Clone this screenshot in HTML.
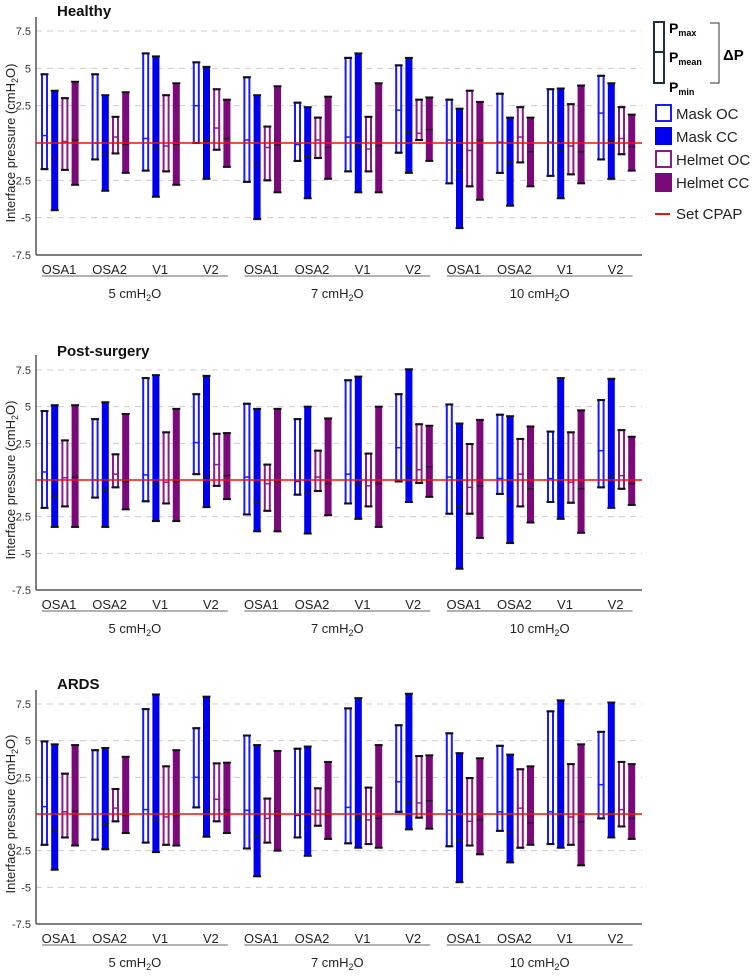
<!DOCTYPE html>
<html><head><meta charset="utf-8"><style>
html,body{margin:0;padding:0;background:#fff;}
svg{display:block;font-family:"Liberation Sans",sans-serif;}
</style></head><body>
<svg id="chart" width="755" height="978" viewBox="0 0 755 978" xmlns="http://www.w3.org/2000/svg">
<g id="legend">
 <rect x="654" y="22" width="10" height="61" fill="#fff" stroke="#1e3040" stroke-width="2"/>
 <line x1="654" y1="52" x2="664" y2="52" stroke="#1e3040" stroke-width="2"/>
 <text x="669" y="33" font-size="14" font-weight="bold">P<tspan font-size="9" dy="3">max</tspan></text>
 <text x="669" y="62" font-size="14" font-weight="bold">P<tspan font-size="9" dy="3">mean</tspan></text>
 <text x="669" y="92" font-size="14" font-weight="bold">P<tspan font-size="9" dy="3">min</tspan></text>
 <polyline points="710,23 719,23 719,83 710,83" fill="none" stroke="#333" stroke-width="1"/>
 <text x="723" y="60" font-size="15" font-weight="bold">ΔP</text>
 <rect x="656" y="105" width="15" height="16" fill="#fff" stroke="#1a1aff" stroke-width="2"/>
 <text x="676" y="119" font-size="15" fill="#222">Mask OC</text>
 <rect x="655" y="127" width="17" height="18" fill="#0000ee"/>
 <text x="676" y="142" font-size="15" fill="#222">Mask CC</text>
 <rect x="656" y="151" width="15" height="16" fill="#fff" stroke="#8b1a8b" stroke-width="2"/>
 <text x="676" y="165" font-size="15" fill="#222">Helmet OC</text>
 <rect x="655" y="173" width="17" height="19" fill="#7a0a7a"/>
 <text x="676" y="188" font-size="15" fill="#222">Helmet CC</text>
 <line x1="655" y1="214" x2="670" y2="214" stroke="#ee1111" stroke-width="2"/>
 <text x="676" y="219" font-size="15" fill="#222">Set CPAP</text>
</g>
</svg>
<script>
const categories = ["OSA1","OSA2","V1","V2","OSA1","OSA2","V1","V2","OSA1","OSA2","V1","V2"];
const groups = ["5 cmH2O","7 cmH2O","10 cmH2O"];
const yTicks = [7.5,5,2.5,-2.5,-5,-7.5];
const panelTitles = ["Healthy","Post-surgery","ARDS"];

const healthyMaskOCMax = [4.6,4.6,6.0,5.4,4.4,2.7,5.7,5.2,2.9,3.3,3.6,4.5];
const healthyMaskOCMean = [0.5,0,0.3,2.5,0.2,-0.1,0.4,2.2,0.2,0.05,0.05,2.0];
const healthyMaskOCMin = [-1.75,-1.1,-1.85,0,-2.6,-1.2,-1.9,-0.65,-2.7,-2.0,-2.2,-1.1];
const healthyMaskCCMax = [3.5,3.2,5.8,5.1,3.2,2.4,6.0,5.7,2.3,1.7,3.65,4.0];
const healthyMaskCCMean = [-1.1,-0.7,-0.4,0.2,-1.5,-0.9,-0.25,0.7,-1.8,-1.3,-0.5,0.2];
const healthyMaskCCMin = [-4.5,-3.2,-3.6,-2.4,-5.1,-3.7,-3.3,-2.0,-5.7,-4.2,-3.7,-2.4];
const healthyHelmetOCMax = [3.0,1.75,3.2,3.6,1.1,1.7,1.75,2.9,3.5,2.4,2.6,2.4];
const healthyHelmetOCMean = [0.1,0.4,-0.2,1.0,-0.3,0.2,-0.4,0.65,-0.5,0.4,-0.2,0.3];
const healthyHelmetOCMin = [-1.8,-0.7,-1.9,-0.45,-2.5,-1.0,-1.9,0.2,-2.9,-1.3,-2.1,-0.75];
const healthyHelmetCCMax = [4.1,3.4,4.0,2.9,3.8,3.1,4.0,3.05,2.75,1.7,3.85,1.9];
const healthyHelmetCCMean = [0.2,-0.1,-0.1,0.3,-0.15,-0.3,-0.2,0.9,0.2,-0.6,-0.6,-0.25];
const healthyHelmetCCMin = [-2.8,-2.0,-2.8,-1.6,-3.3,-2.4,-3.3,-1.2,-3.8,-2.9,-2.7,-1.85];

const postMaskOCMax = [4.7,4.15,6.95,5.85,5.2,4.15,6.8,5.85,5.15,4.45,3.3,5.45];
const postMaskOCMean = [0.55,0,0.35,2.55,0.2,-0.1,0.4,2.2,0.2,0.1,0.1,2.0];
const postMaskOCMin = [-1.9,-1.2,-1.45,0.4,-2.35,-1.0,-1.6,-0.1,-2.3,-0.95,-1.5,-0.5];
const postMaskCCMax = [5.1,5.3,7.15,7.1,4.85,5.0,7.05,7.55,3.85,4.35,6.95,6.9];
const postMaskCCMean = [-1.1,-0.7,-0.35,0.2,-1.5,-0.9,-0.3,0.75,-1.8,-1.3,-0.5,0.2];
const postMaskCCMin = [-3.2,-3.2,-2.8,-1.85,-3.5,-3.65,-2.65,-1.5,-6.05,-4.3,-2.65,-1.9];
const postHelmetOCMax = [2.7,1.75,3.25,3.15,1.05,2.0,1.8,3.8,2.45,2.8,3.25,3.4];
const postHelmetOCMean = [0.15,0.4,-0.15,1.05,-0.25,0.2,-0.4,0.7,-0.5,0.4,-0.15,0.3];
const postHelmetOCMin = [-1.8,-0.5,-1.6,-0.4,-2.1,-0.75,-1.8,-0.2,-2.3,-1.8,-1.55,-0.6];
const postHelmetCCMax = [5.1,4.5,4.85,3.2,4.85,4.2,5.0,3.7,4.1,3.65,4.75,2.95];
const postHelmetCCMean = [0.2,-0.1,-0.1,0.3,-0.1,-0.25,-0.25,0.9,-0.4,-0.6,-0.6,-0.25];
const postHelmetCCMin = [-3.2,-2.0,-2.8,-1.3,-3.5,-2.4,-3.2,-1.15,-3.95,-2.9,-3.6,-1.7];

const ardsMaskOCMax = [4.95,4.35,7.15,5.85,5.35,4.45,7.2,6.05,5.5,4.65,7.0,5.6];
const ardsMaskOCMean = [0.5,0,0.3,2.5,0.25,-0.1,0.45,2.2,0.25,0.15,0.15,2.0];
const ardsMaskOCMin = [-2.1,-1.75,-1.95,0.45,-2.35,-1.6,-2.0,0.15,-2.2,-1.15,-2.05,-0.3];
const ardsMaskCCMax = [4.75,4.5,8.15,8.0,4.7,4.6,7.9,8.2,4.15,4.05,7.75,7.6];
const ardsMaskCCMean = [-1.1,-0.7,-0.4,0.2,-1.5,-0.9,-0.3,0.75,-1.8,-1.3,-0.5,0.15];
const ardsMaskCCMin = [-3.8,-2.4,-2.6,-1.55,-4.25,-2.85,-2.3,-1.05,-4.65,-3.3,-2.3,-1.6];
const ardsHelmetOCMax = [2.75,1.7,3.25,3.45,1.05,1.75,1.8,3.95,2.45,3.05,3.4,3.55];
const ardsHelmetOCMean = [0.15,0.4,-0.2,1.0,-0.3,0.25,-0.4,0.75,-0.5,0.4,-0.2,0.3];
const ardsHelmetOCMin = [-1.6,-0.5,-2.1,-0.5,-1.95,-0.8,-2.05,-0.25,-2.15,-2.3,-2.1,-0.85];
const ardsHelmetCCMax = [4.7,3.9,4.35,3.5,4.3,3.55,4.7,4.0,3.8,3.25,4.75,3.4];
const ardsHelmetCCMean = [0.2,-0.1,-0.1,0.3,-0.1,-0.1,-0.3,0.9,-0.4,-0.6,-0.55,-0.3];
const ardsHelmetCCMin = [-2.15,-1.3,-2.15,-1.3,-2.5,-1.7,-2.3,-1.0,-2.75,-2.1,-3.5,-1.7];

const NS = "http://www.w3.org/2000/svg";
const svg = document.getElementById("chart");
function mk(tag, attrs, parent) {
  const e = document.createElementNS(NS, tag);
  for (const k in attrs) e.setAttribute(k, attrs[k]);
  parent.appendChild(e);
  return e;
}
const seriesStyle = [
  {key:"mask-oc", open:true, color:"#1a1aff"},
  {key:"mask-cc", open:false, color:"#0000ee"},
  {key:"helmet-oc", open:true, color:"#8b1a8b"},
  {key:"helmet-cc", open:false, color:"#7a0a7a"}
];
const panels = [
  {top:31, bottom:255, axisTop:17, titleY:16, name:"healthy",
   data:[[healthyMaskOCMax,healthyMaskOCMean,healthyMaskOCMin],[healthyMaskCCMax,healthyMaskCCMean,healthyMaskCCMin],[healthyHelmetOCMax,healthyHelmetOCMean,healthyHelmetOCMin],[healthyHelmetCCMax,healthyHelmetCCMean,healthyHelmetCCMin]]},
  {top:370, bottom:590, axisTop:355, titleY:356, name:"post-surgery",
   data:[[postMaskOCMax,postMaskOCMean,postMaskOCMin],[postMaskCCMax,postMaskCCMean,postMaskCCMin],[postHelmetOCMax,postHelmetOCMean,postHelmetOCMin],[postHelmetCCMax,postHelmetCCMean,postHelmetCCMin]]},
  {top:704, bottom:924, axisTop:690, titleY:689, name:"ards",
   data:[[ardsMaskOCMax,ardsMaskOCMean,ardsMaskOCMin],[ardsMaskCCMax,ardsMaskCCMean,ardsMaskCCMin],[ardsHelmetOCMax,ardsHelmetOCMean,ardsHelmetOCMin],[ardsHelmetCCMax,ardsHelmetCCMean,ardsHelmetCCMin]]}
];
const axisX = 36, axisRight = 642;
function xCat(i){ return 41 + 50.6*i; }

panels.forEach((p, pi) => {
  const yScale = v => p.bottom - (v + 7.5) / 15 * (p.bottom - p.top);
  const g = mk("g", {}, svg);
  
  
  const t = mk("text", {x:57, y:p.titleY, "font-size":15, "font-weight":"bold", fill:"#111"}, g);
  
  
  t.textContent = panelTitles[pi];
  // grid
  yTicks.forEach(v => {
    const y = yScale(v);
    if (v > -7.5) {
      const gl = mk("line", {x1:axisX, x2:axisRight, y1:y, y2:y, stroke:"#ccc", "stroke-width":1, "stroke-dasharray":"6,5"}, g);
      
      
    }
    const tl = mk("text", {x:31, y:y+4, "font-size":11, fill:"#333", "text-anchor":"end"}, g);
    
    
    tl.textContent = String(v);
  });
  // axes
  const ya = mk("line", {x1:axisX, x2:axisX, y1:p.axisTop, y2:p.bottom, stroke:"#555", "stroke-width":1.5}, g);
  
  
  const xa = mk("line", {x1:axisX, x2:axisRight, y1:p.bottom, y2:p.bottom, stroke:"#555", "stroke-width":1.5}, g);
  
  
  // y title
  const cy = (p.top + p.bottom) / 2;
  const yt = mk("text", {x:0, y:0, "font-size":13, fill:"#222", "text-anchor":"middle", transform:`translate(15,${cy}) rotate(-90)`}, g);
  
  
  yt.innerHTML = 'Interface pressure (cmH<tspan font-size="9" dy="3">2</tspan><tspan dy="-3">O)</tspan>';
  // bars
  categories.forEach((c, i) => {
    seriesStyle.forEach((s, si) => {
      const [mx, mn, mi] = [p.data[si][0][i], p.data[si][1][i], p.data[si][2][i]];
      const x = xCat(i) + si * 10.2;
      const w = 7;
      const y1 = yScale(mx), y2 = yScale(mi), ym = yScale(mn);
      const bar = s.open
        ? mk("rect", {x:x+1, y:y1, width:w-2, height:y2-y1, fill:"#fff", stroke:s.color, "stroke-width":2}, g)
        : mk("rect", {x:x, y:y1, width:w, height:y2-y1, fill:s.color}, g);
      
      
      const ml = mk("line", {x1:x, x2:x+w, y1:ym, y2:ym, stroke:s.open ? s.color : "#222", "stroke-width":1.5}, g);
      
      
      [y1, y2].forEach(yy => {
        const cap = mk("line", {x1:x-0.5, x2:x+w+0.5, y1:yy, y2:yy, stroke:"#111", "stroke-width":2}, g);
        
        
      });
    });
    const cl = mk("text", {x:xCat(i)+18, y:p.bottom+19, "font-size":13, fill:"#222", "text-anchor":"middle"}, g);
    
    
    cl.textContent = c;
  });
  // red CPAP line
  const rl = mk("line", {x1:axisX, x2:axisRight, y1:yScale(0), y2:yScale(0), stroke:"#ee1111", "stroke-width":1.6}, g);
  
  
  // group lines and labels
  groups.forEach((gname, gi) => {
    const x1 = xCat(gi*4) + 1, x2 = xCat(gi*4+3) + 35;
    const gl = mk("line", {x1:x1, x2:x2, y1:p.bottom+21, y2:p.bottom+21, stroke:"#666", "stroke-width":1}, g);
    
    
    const gt = mk("text", {x:(x1+x2)/2, y:p.bottom+43, "font-size":13, fill:"#222", "text-anchor":"middle"}, g);
    
    
    const num = gname.split(" ")[0];
    gt.innerHTML = num + ' cmH<tspan font-size="9" dy="3">2</tspan><tspan dy="-3">O</tspan>';
  });
});
</script>
</body></html>
